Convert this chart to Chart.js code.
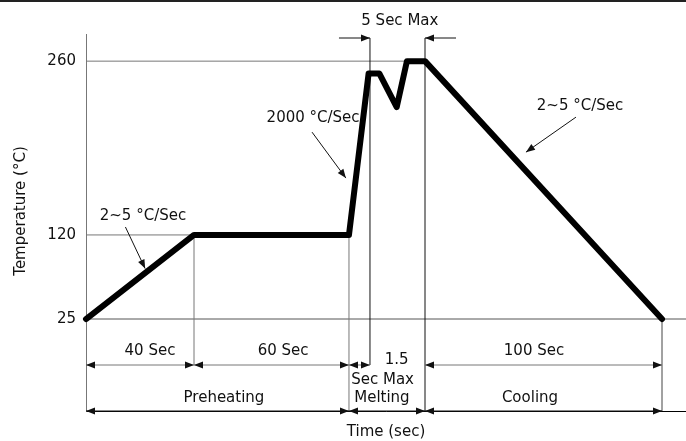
<!DOCTYPE html>
<html>
<head>
<meta charset="utf-8">
<script src="https://cdn.jsdelivr.net/npm/chart.js@4.4.1/dist/chart.umd.min.js"></script>
<style>
  body { margin: 0; background: #fff; }
  #wrap { width: 686px; height: 441px; }
</style>
</head>
<body>
<div id="wrap"><canvas id="myChart"></canvas></div>
<script>
// Reflow profile (schematic) - time in sec, temperature in °C
const timePoints = [0, 40, 100, 101.4, 102.1, 103.2, 103.85, 105, 205]
const tempPoints = [25, 120, 120, 250, 250, 223, 260, 260, 25]
const tempTicks = [25, 120, 260]

// duration dimensions (upper row) and phases (lower row)
const durLabels = ['40 Sec', '60 Sec', '', '100 Sec']
const durStart = [0, 40, 100, 105]
const durEnd = [40, 100, 101.5, 205]
const phaseLabels = ['Preheating', 'Melting', 'Cooling']
const phaseStart = [0, 100, 105]
const phaseEnd = [100, 105, 205]
const slopeLabels = ['2~5 °C/Sec', '2000 °C/Sec', '2~5 °C/Sec']

const FAMILY = '"DejaVu Sans", Verdana, sans-serif'
const FONT = '15px ' + FAMILY
const GRAY = '#777'
const INK = '#111'

// piecewise linear scale, the drawing is not to scale
function toDecimal (knots, v) {
  for (let i = 1; i < knots.length; i++) {
    const [v0, d0] = knots[i - 1]
    const [v1, d1] = knots[i]
    if (v <= v1 || i === knots.length - 1) return d0 + (v - v0) / (v1 - v0) * (d1 - d0)
  }
}
function fromDecimal (knots, d) {
  for (let i = 1; i < knots.length; i++) {
    const [v0, d0] = knots[i - 1]
    const [v1, d1] = knots[i]
    if (d <= d1 || i === knots.length - 1) return v0 + (d - d0) / (d1 - d0) * (v1 - v0)
  }
}
class SchematicScale extends Chart.LinearScale {
  getPixelForValue (value) {
    return this.getPixelForDecimal(toDecimal(this.options.knots, value))
  }
  getValueForPixel (pixel) {
    return fromDecimal(this.options.knots, this.getDecimalForPixel(pixel))
  }
}
SchematicScale.id = 'schematic'
SchematicScale.defaults = Chart.LinearScale.defaults
Chart.register(SchematicScale)

function head (ctx, x, y, ang) {
  ctx.save()
  ctx.translate(x, y)
  ctx.rotate(ang)
  ctx.beginPath()
  ctx.moveTo(0, 0)
  ctx.lineTo(-9, -3.5)
  ctx.lineTo(-9, 3.5)
  ctx.closePath()
  ctx.fill()
  ctx.restore()
}
function line (ctx, x0, y0, x1, y1, color) {
  ctx.strokeStyle = color
  ctx.beginPath()
  ctx.moveTo(x0, y0)
  ctx.lineTo(x1, y1)
  ctx.stroke()
}
function arrow (ctx, x0, y0, x1, y1) {
  line(ctx, x0, y0, x1, y1, INK)
  head(ctx, x1, y1, Math.atan2(y1 - y0, x1 - x0))
}
function dimension (ctx, xa, xb, y, color) {
  line(ctx, xa, y, xb, y, color)
  head(ctx, xb, y, 0)
  head(ctx, xa, y, Math.PI)
}
function text (ctx, s, x, y) {
  ctx.fillText(s, x, y)
}

const guides = {
  id: 'guides',
  beforeDatasetsDraw (chart) {
    const { ctx, chartArea: a, scales: { x, y } } = chart
    const X = v => x.getPixelForValue(v)
    const Y = v => y.getPixelForValue(v)
    const row1 = Y(25) + 46
    ctx.save()
    ctx.lineWidth = 1
    // top frame line
    ctx.fillStyle = '#222'
    ctx.fillRect(0, 0, chart.width, 2)
    // level lines
    line(ctx, X(0), Y(260), X(105), Y(260), GRAY)
    line(ctx, X(0), Y(120), X(40), Y(120), GRAY)
    line(ctx, X(0), Y(25), a.right, Y(25), '#555')
    // boundaries
    line(ctx, X(40), Y(120), X(40), row1, GRAY)
    line(ctx, X(100), Y(120), X(100), a.bottom, GRAY)
    line(ctx, X(101.5), a.top + 4, X(101.5), row1, INK)
    line(ctx, X(105), a.top + 4, X(105), a.bottom, INK)
    line(ctx, X(205), Y(25), X(205), a.bottom, '#444')
    ctx.restore()
  },
  afterDraw (chart) {
    const { ctx, chartArea: a, scales: { x, y } } = chart
    const X = v => x.getPixelForValue(v)
    const Y = v => y.getPixelForValue(v)
    const row1 = Y(25) + 46
    const row2 = a.bottom
    ctx.save()
    ctx.lineWidth = 1
    ctx.fillStyle = INK
    ctx.font = FONT
    ctx.textAlign = 'center'
    ctx.textBaseline = 'middle'

    // duration row
    const durX = [23.7, 74.5, 0, 151]
    durLabels.forEach((s, i) => {
      dimension(ctx, X(durStart[i]), X(durEnd[i]), row1, GRAY)
      if (s) text(ctx, s, X(durX[i]), row1 - 14)
    })
    text(ctx, '1.5', X(103.2), row1 - 5)
    text(ctx, 'Sec Max', X(102.3), row1 + 15)

    // phase row
    const phaseX = [51.6, 102.26, 149.3]
    phaseLabels.forEach((s, i) => {
      dimension(ctx, X(phaseStart[i]), X(phaseEnd[i]), row2, INK)
      text(ctx, s, X(phaseX[i]), row2 - 13)
    })

    // 5 Sec Max
    const topY = a.top + 4
    arrow(ctx, X(101.5) - 31, topY, X(101.5), topY)
    arrow(ctx, X(105) + 31, topY, X(105), topY)
    text(ctx, '5 Sec Max', X(103.4), topY - 17)

    // slope callouts
    text(ctx, slopeLabels[0], X(21.1), Y(135))
    arrow(ctx, X(14.6), Y(126.4), X(21.9), Y(82))
    text(ctx, slopeLabels[1], X(86.1), Y(214))
    arrow(ctx, X(85.7), Y(202.8), X(98.8), Y(165.8))
    text(ctx, slopeLabels[2], X(170.4), Y(224))
    arrow(ctx, X(168.7), Y(214.9), X(147.6), Y(186.7))

    // y axis title
    ctx.translate(21, 211)
    ctx.rotate(-Math.PI / 2)
    text(ctx, 'Temperature (°C)', 0, 0)
    ctx.restore()
  }
}

new Chart(document.getElementById('myChart'), {
  type: 'line',
  data: {
    datasets: [{
      data: timePoints.map((t, i) => ({ x: t, y: tempPoints[i] })),
      borderColor: '#000',
      borderWidth: 6,
      borderJoinStyle: 'round',
      borderCapStyle: 'round',
      pointRadius: 0,
      tension: 0,
      clip: false
    }]
  },
  options: {
    responsive: true,
    maintainAspectRatio: false,
    animation: false,
    events: [],
    layout: { padding: { top: 34, left: 0, right: 0, bottom: 0 } },
    plugins: { legend: { display: false }, tooltip: { enabled: false } },
    scales: {
      x: {
        type: 'schematic',
        min: 0,
        max: 215,
        knots: [[0, 0], [40, 0.18], [100, 0.4383], [101.5, 0.4733], [105, 0.565], [205, 0.96], [215, 1]],
        afterFit: s => { s.height = 30 },
        ticks: { display: false },
        grid: { display: false },
        border: { color: '#000', width: 1 },
        title: { display: true, text: 'Time (sec)', color: INK, font: { family: FAMILY, size: 15 }, padding: { top: 0, bottom: 0 } }
      },
      y: {
        type: 'schematic',
        min: -80,
        max: 285,
        knots: [[-80, 0], [25, 0.244], [120, 0.467], [260, 0.928], [285, 1]],
        afterFit: s => { s.width = 86 },
        afterBuildTicks: s => { s.ticks = tempTicks.map(v => ({ value: v })) },
        ticks: { padding: 10, color: INK, font: { family: FAMILY, size: 15 } },
        grid: { display: false, drawTicks: false },
        border: { color: GRAY, width: 1 }
      }
    }
  },
  plugins: [guides]
})
</script>
</body>
</html>
